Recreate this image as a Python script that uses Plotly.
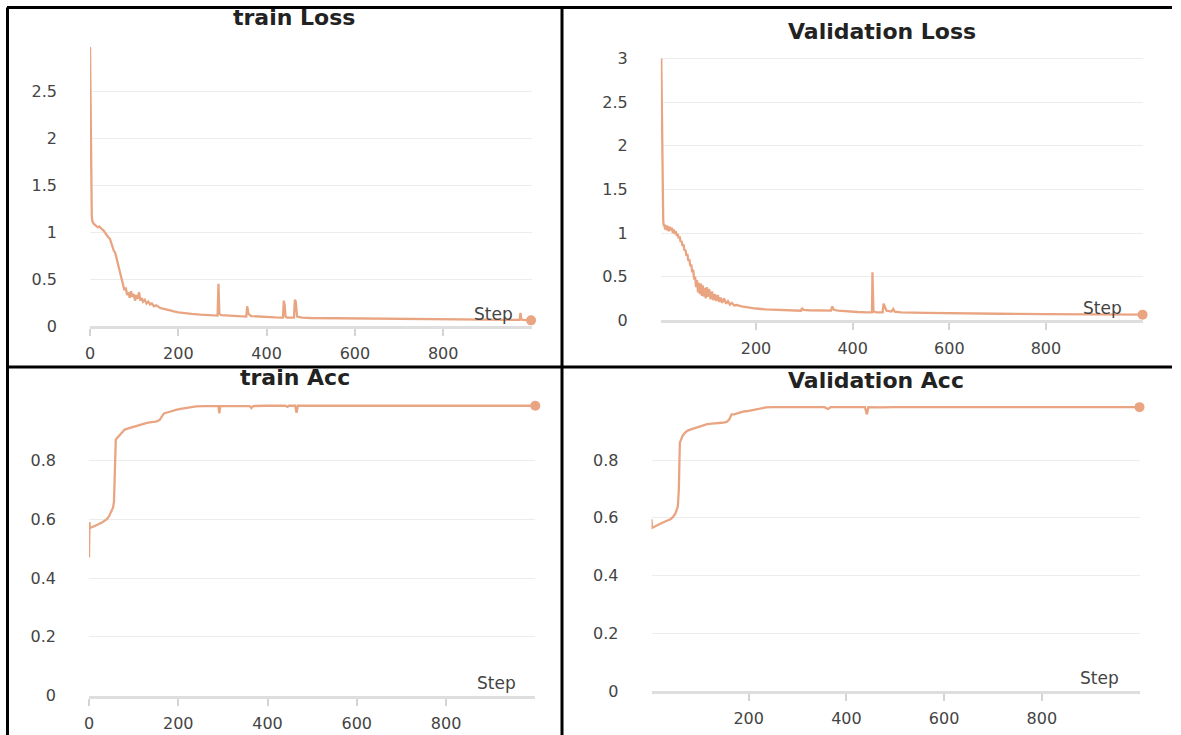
import plotly.graph_objects as go

# ---------------- data ----------------
train_loss_steps = [0, 1, 2, 3, 4, 5, 6, 8, 10, 12, 15, 18, 21, 24, 27, 30, 33, 36, 39, 42, 45, 48,
                    51, 54, 57, 60, 63, 66, 69, 72, 75, 78, 81, 84, 87, 90, 93, 96, 99, 102, 105,
                    108, 111, 114, 117, 120, 124, 128, 132, 136, 140, 145, 150, 155, 160, 170, 180,
                    190, 200, 215, 230, 250, 270, 285, 289, 291, 293, 297, 310, 330, 350, 354, 356,
                    359, 365, 380, 400, 420, 435, 437, 439, 441, 443, 446, 460, 462, 464, 466, 469,
                    480, 500, 550, 600, 700, 800, 900, 970, 973, 975, 977, 980, 999]
train_loss_values = [2.97, 2.2, 1.7, 1.35, 1.18, 1.12, 1.1, 1.09, 1.08, 1.07, 1.06, 1.05, 1.06, 1.04,
                     1.03, 1.02, 1.0, 0.97, 0.96, 0.94, 0.93, 0.88, 0.84, 0.80, 0.78, 0.72, 0.68,
                     0.62, 0.55, 0.49, 0.44, 0.38, 0.41, 0.33, 0.36, 0.30, 0.37, 0.31, 0.34, 0.27,
                     0.33, 0.29, 0.36, 0.27, 0.30, 0.26, 0.28, 0.24, 0.26, 0.23, 0.24, 0.21, 0.22,
                     0.20, 0.19, 0.18, 0.165, 0.155, 0.145, 0.135, 0.128, 0.12, 0.115, 0.11, 0.11,
                     0.45, 0.13, 0.115, 0.11, 0.105, 0.10, 0.10, 0.21, 0.13, 0.105, 0.10, 0.095,
                     0.092, 0.09, 0.09, 0.27, 0.22, 0.10, 0.09, 0.09, 0.09, 0.28, 0.26, 0.10, 0.09,
                     0.085, 0.082, 0.08, 0.075, 0.07, 0.067, 0.065, 0.065, 0.14, 0.07, 0.065, 0.06]

val_loss_steps = [4, 5, 6, 7, 8, 9, 10, 12, 14, 16, 18, 20, 22, 24, 26, 28, 30, 32, 34, 36, 38,
                  40, 42, 44, 46, 48, 50, 52, 54, 56, 58, 60, 62, 64, 66, 68, 70, 72, 74, 76, 78,
                  80, 82, 84, 86, 88, 90, 92, 94, 96, 98, 100, 103, 106, 109, 112, 115, 118, 121,
                  124, 127, 130, 134, 138, 142, 146, 150, 155, 160, 170, 180, 190, 200, 220, 240,
                  260, 280, 293, 295, 298, 310, 330, 340, 355, 358, 361, 370, 390, 410, 430, 440,
                  441, 443, 450, 462, 464, 467, 470, 480, 484, 487, 500, 550, 600, 700, 800, 900,
                  1000]
val_loss_values = [3.0, 2.4, 1.7, 1.3, 1.15, 1.08, 1.1, 1.04, 1.09, 1.03, 1.08, 1.02, 1.07,
                   1.03, 1.06, 1.0, 1.04, 0.99, 1.02, 0.97, 0.99, 0.94, 0.96, 0.9, 0.91, 0.85,
                   0.87, 0.8, 0.81, 0.74, 0.76, 0.68, 0.7, 0.62, 0.64, 0.55, 0.58, 0.47, 0.5,
                   0.38, 0.46, 0.32, 0.43, 0.3, 0.42, 0.28, 0.4, 0.27, 0.37, 0.25, 0.38, 0.27,
                   0.36, 0.24, 0.33, 0.23, 0.3, 0.22, 0.29, 0.21, 0.26, 0.2, 0.25, 0.19, 0.22,
                   0.18, 0.2, 0.17, 0.175, 0.16, 0.15, 0.14, 0.135, 0.125, 0.12, 0.115, 0.11,
                   0.11, 0.14, 0.12, 0.115, 0.11, 0.115, 0.11, 0.16, 0.12, 0.11, 0.1, 0.095,
                   0.09, 0.09, 0.55, 0.1, 0.09, 0.09, 0.19, 0.15, 0.11, 0.1, 0.13, 0.1, 0.09,
                   0.085, 0.08, 0.075, 0.07, 0.067, 0.065]

train_acc_steps = [0, 1, 2, 5, 10, 20, 30, 40, 45, 50, 54, 56, 58, 60, 62, 65, 70, 75, 80, 90, 100,
                   110, 120, 130, 140, 150, 158, 163, 168, 175, 185, 195, 205, 215, 225, 240, 260,
                   280, 290, 292, 294, 320, 340, 360, 364, 368, 400, 440, 445, 448, 462, 465, 468,
                   500, 600, 700, 800, 900, 1000]
train_acc_values = [0.47, 0.59, 0.57, 0.572, 0.575, 0.582, 0.59, 0.60, 0.61, 0.625, 0.64, 0.66,
                    0.75, 0.87, 0.875, 0.88, 0.89, 0.90, 0.905, 0.91, 0.915, 0.92, 0.925, 0.928,
                    0.93, 0.932, 0.937, 0.95, 0.96, 0.963, 0.968, 0.972, 0.975, 0.978, 0.982,
                    0.984, 0.985, 0.985, 0.985, 0.96, 0.985, 0.985, 0.985, 0.985, 0.978, 0.985,
                    0.986, 0.986, 0.982, 0.986, 0.986, 0.962, 0.986, 0.986, 0.986, 0.986, 0.986,
                    0.986, 0.986]

val_acc_steps = [1, 2, 5, 10, 20, 30, 40, 45, 50, 55, 57, 59, 61, 65, 70, 75, 85, 95, 105, 115, 125,
                 135, 145, 155, 160, 165, 170, 180, 190, 200, 210, 220, 235, 250, 300, 355, 362,
                 368, 400, 438, 442, 445, 470, 500, 600, 700, 800, 900, 1000]
val_acc_values = [0.595, 0.565, 0.567, 0.572, 0.58, 0.588, 0.595, 0.603, 0.615, 0.64, 0.70, 0.86,
                  0.87, 0.885, 0.895, 0.902, 0.908, 0.913, 0.918, 0.924, 0.926, 0.927, 0.929,
                  0.932, 0.94, 0.958, 0.958, 0.963, 0.968, 0.97, 0.974, 0.978, 0.982, 0.983,
                  0.983, 0.983, 0.977, 0.983, 0.983, 0.983, 0.958, 0.983, 0.982, 0.983, 0.983,
                  0.983, 0.983, 0.983, 0.983]

titles = ["train Loss", "Validation Loss", "train Acc", "Validation Acc"]
loss_ticks = [0, 0.5, 1, 1.5, 2, 2.5]
val_loss_ticks = [0, 0.5, 1, 1.5, 2, 2.5, 3]
acc_ticks = [0, 0.2, 0.4, 0.6, 0.8]
train_step_ticks = [0, 200, 400, 600, 800]
val_step_ticks = [200, 400, 600, 800]

# ---------------- layout helpers ----------------
W, H = 1181, 735
LINE = "#e9a582"
FONT = "DejaVu Sans"


def px_x(a, b):
    return [a / W, b / W]


def px_y(top, bottom):
    return [(H - bottom) / H, (H - top) / H]


panels = [
    dict(steps=train_loss_steps, vals=train_loss_values, xr=[0, 1000], yr=[0, 2.98],
         xd=px_x(90, 531.5), yd=px_y(46, 326), yt=loss_ticks, xt=train_step_ticks,
         title=(294, 18), step=(493, 314)),
    dict(steps=val_loss_steps, vals=val_loss_values, xr=[3, 1000], yr=[0, 3.02],
         xd=px_x(660.8, 1142.6), yd=px_y(56.7, 320.3), yt=val_loss_ticks, xt=val_step_ticks,
         title=(882, 31), step=(1102, 308)),
    dict(steps=train_acc_steps, vals=train_acc_values, xr=[0, 1000], yr=[0, 0.995],
         xd=px_x(89, 535.3), yd=px_y(403.1, 695.6), yt=acc_ticks, xt=train_step_ticks,
         title=(295, 378), step=(496, 683)),
    dict(steps=val_acc_steps, vals=val_acc_values, xr=[1, 1000], yr=[0, 0.995],
         xd=px_x(651.5, 1139.5), yd=px_y(403.7, 691), yt=acc_ticks, xt=val_step_ticks,
         title=(876, 380), step=(1099, 678)),
]

fig = go.Figure()
annotations = []
layout_axes = {}
for i, p in enumerate(panels, start=1):
    xa = "x" if i == 1 else f"x{i}"
    ya = "y" if i == 1 else f"y{i}"
    fig.add_trace(go.Scatter(x=p["steps"], y=p["vals"], mode="lines",
                             line=dict(color=LINE, width=2.3), xaxis=xa, yaxis=ya,
                             showlegend=False, hoverinfo="skip"))
    fig.add_trace(go.Scatter(x=[p["steps"][-1]], y=[p["vals"][-1]], mode="markers",
                             marker=dict(color=LINE, size=10), xaxis=xa, yaxis=ya,
                             cliponaxis=False, showlegend=False, hoverinfo="skip"))
    xkey = "xaxis" if i == 1 else f"xaxis{i}"
    ykey = "yaxis" if i == 1 else f"yaxis{i}"
    layout_axes[xkey] = dict(domain=p["xd"], range=p["xr"], anchor=ya, showgrid=False,
                             automargin=False,
                             zeroline=False, showline=True, linecolor="#dedede", linewidth=3,
                             ticks="outside", tickcolor="#d4d4d4", tickwidth=2, ticklen=7,
                             tickvals=p["xt"], tickfont=dict(family=FONT, size=16, color="#444"),
                             ticklabelstandoff=4)
    layout_axes[ykey] = dict(domain=p["yd"], range=p["yr"], anchor=xa, showgrid=True,
                             automargin=False,
                             gridcolor="#ececec", gridwidth=1, zeroline=False, showline=False,
                             ticks="", tickvals=p["yt"],
                             tickfont=dict(family=FONT, size=16, color="#444"),
                             ticklabelstandoff=32)
    tx, ty = p["title"]
    annotations.append(dict(text=f"<b>{titles[i-1]}</b>", x=tx / W, y=1 - ty / H,
                            xref="paper", yref="paper", xanchor="center", yanchor="middle",
                            showarrow=False, font=dict(family=FONT, size=22, color="#222")))
    sx, sy = p["step"]
    annotations.append(dict(text="Step", x=sx / W, y=1 - sy / H, xref="paper", yref="paper",
                            xanchor="center", yanchor="middle", showarrow=False,
                            font=dict(family=FONT, size=17, color="#444")))

# table borders
shapes = []
top_y = 1 - 7.5 / H
mid_y = 1 - 367 / H
for (x0, y0, x1, y1) in [(7 / W, top_y, 1172 / W, top_y),
                         (7.5 / W, 0, 7.5 / W, top_y),
                         (562 / W, 0, 562 / W, top_y),
                         (7 / W, mid_y, 1172 / W, mid_y)]:
    shapes.append(dict(type="line", xref="paper", yref="paper", x0=x0, y0=y0, x1=x1, y1=y1,
                       line=dict(color="black", width=3)))

fig.update_layout(width=W, height=H, margin=dict(l=0, r=0, t=0, b=0, autoexpand=False),
                  paper_bgcolor="white", plot_bgcolor="white", hovermode=False,
                  annotations=annotations, shapes=shapes, **layout_axes)

fig.write_html("out.html", config={"displayModeBar": False, "staticPlot": True},
               post_script="document.body.style.margin='0';document.body.style.padding='0';"
                           "document.body.style.overflow='hidden';")
